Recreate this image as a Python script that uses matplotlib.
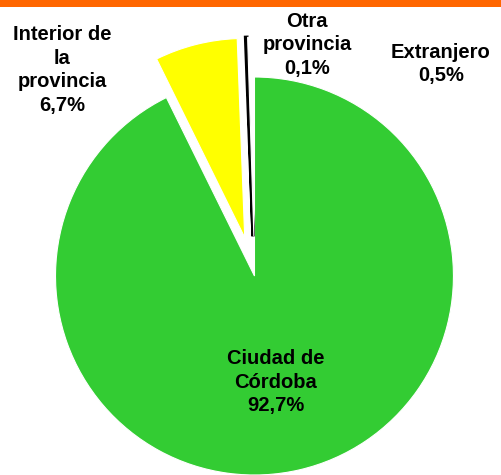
import matplotlib.pyplot as plt
from matplotlib.patches import Rectangle

plt.rcParams['font.family'] = ['Liberation Sans', 'DejaVu Sans']

labels = ["Ciudad de\nCórdoba\n92,7%", "Interior de\nla\nprovincia\n6,7%",
          "Otra\nprovincia\n0,1%", "Extranjero\n0,5%"]
values = [92.7, 6.7, 0.1, 0.5]
colors = ['#33CC33', '#FFFF00', '#000000', '#FFFFFF']
explode = [0, 0.2, 0.2, 0.2]
label_pos = [(0.108, -0.533), (-0.967, 1.035), (0.264, 1.161), (0.937, 1.065)]

fig = plt.figure(figsize=(5.02, 4.75), dpi=100)
ax = fig.add_axes([0, 0, 1, 1])

wedges, _ = ax.pie(values, colors=colors, explode=explode, startangle=90,
                   counterclock=False, radius=1.0,
                   wedgeprops=dict(edgecolor='white', linewidth=0.8))
# thin black slice gets a black outline so it stays visible
wedges[2].set_edgecolor('black')
wedges[2].set_linewidth(2.5)

for txt, (x, y) in zip(labels, label_pos):
    ax.text(x, y, txt, ha='center', va='center', fontsize=14.5,
            fontweight='bold', linespacing=1.32)

ax.set_xlim(-1.279, 1.244)
ax.set_ylim(-1.0, 1.387)
ax.set_aspect('auto')
ax.axis('off')

# orange band across the top
fig.patches.append(Rectangle((0, 1 - 7 / 475), 1, 7 / 475, transform=fig.transFigure,
                             facecolor='#FF6600', edgecolor='none'))

fig.savefig('out.png', dpi=100)
